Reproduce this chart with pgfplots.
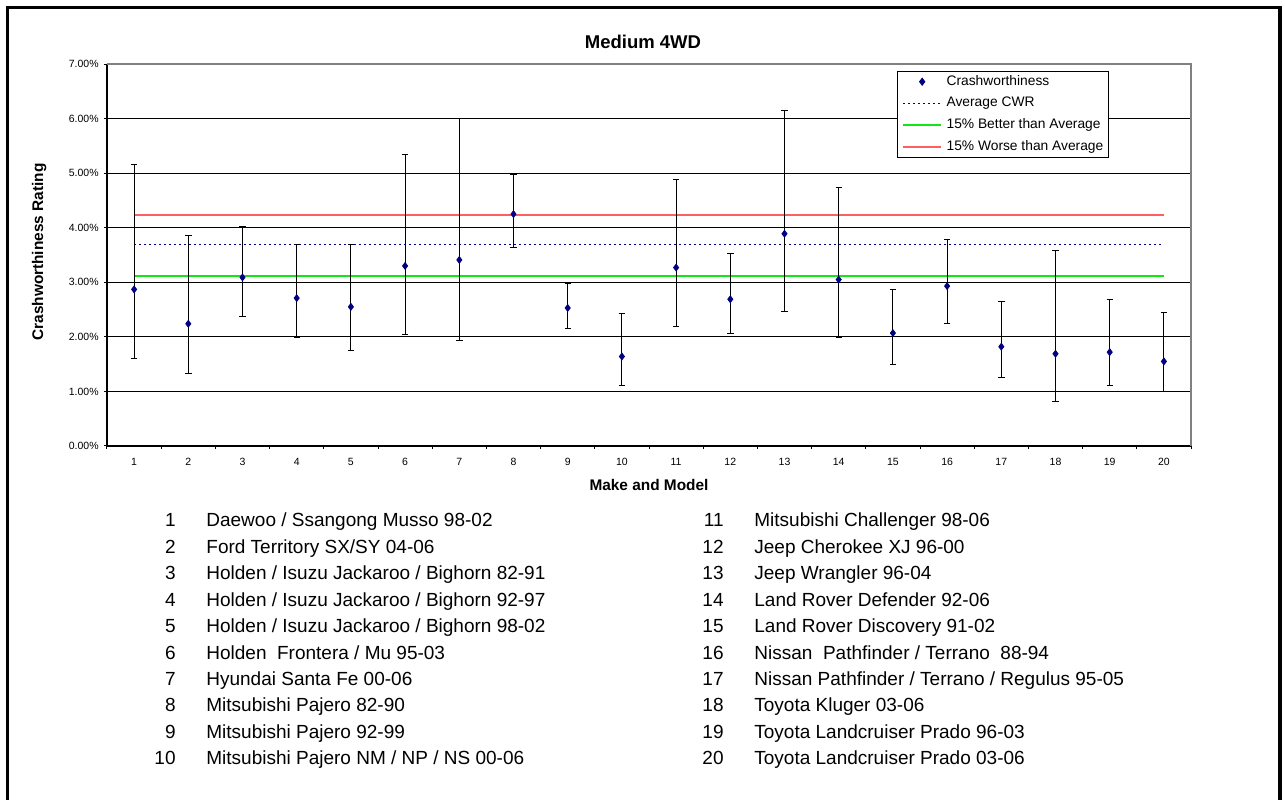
\documentclass[border=0pt]{standalone}
\usepackage{pgfplots}
\pgfplotsset{compat=1.18}
\usepackage{pgfplotstable}
\usepackage{fontspec}
\setmainfont{Liberation Sans}

\definecolor{navy}{RGB}{0,0,128}
\definecolor{redline}{RGB}{255,95,95}
\definecolor{greenline}{RGB}{20,230,20}
\definecolor{bordergray}{RGB}{128,128,128}

% x = model number, y = rating (%), hi/lo = confidence limits (%)
\pgfplotstableread{
x y hi lo
1 2.87 5.16 1.60
2 2.24 3.86 1.32
3 3.09 4.02 2.38
4 2.71 3.69 1.99
5 2.55 3.70 1.75
6 3.30 5.34 2.05
7 3.41 6.00 1.93
8 4.25 4.98 3.64
9 2.53 2.98 2.16
10 1.64 2.43 1.11
11 3.27 4.88 2.19
12 2.69 3.52 2.07
13 3.89 6.14 2.47
14 3.05 4.74 1.99
15 2.07 2.86 1.50
16 2.93 3.78 2.24
17 1.82 2.64 1.26
18 1.69 3.59 0.81
19 1.72 2.69 1.11
20 1.55 2.44 1.00
}\cwr

\newcommand\lrow[4]{%
  \node[anchor=base east, inner sep=0pt] at (#1,#3) {#2};%
  \node[anchor=base west, inner sep=0pt] at (#1+30,#3) {#4};%
}

\begin{document}
\begin{tikzpicture}
\begin{scope}[x=0.5pt,y=-0.5pt]
  \path[use as bounding box] (0,0) rectangle (1285,792);
\end{scope}

\begin{axis}[
  at={(53.5pt,-223pt)}, anchor=south west,
  scale only axis, width=542pt, height=191pt,
  xmin=0.5, xmax=20.5, ymin=0, ymax=7,
  enlargelimits=false,
  axis x line*=bottom, axis y line*=left,
  axis line style={black, line width=0.6pt, -},
  xtick={1,...,20},
  major x tick style={draw=none},
  minor xtick={0.5,1.5,...,20.5},
  minor x tick style={black, line width=0.5pt},
  ytick={0,1,2,3,4,5,6,7},
  yticklabels={0.00\%,1.00\%,2.00\%,3.00\%,4.00\%,5.00\%,6.00\%,7.00\%},
  major y tick style={black, line width=0.5pt},
  tick align=outside, major tick length=1.5pt, minor tick length=1.5pt,
  ymajorgrids, major grid style={black, line width=0.5pt},
  /pgf/number format/assume math mode=true,
  ticklabel style={font=\fontsize{5.25}{6}\selectfont, inner sep=0pt},
  yticklabel shift=2.5pt,
  xticklabel shift=4.5pt,
  clip=false,
  legend image code/.code={\draw[mark repeat=2,mark phase=2,#1] plot coordinates {(0pt,0pt)(9.5pt,0pt)(19pt,0pt)};},
  legend cell align=left,
  legend style={at={(0.7285,0.9825)}, anchor=north west, draw=black, line width=0.5pt, fill=white,
    font=\fontsize{6.9}{8}\selectfont,
    nodes={inner sep=0pt, text height=5pt, text depth=1.5pt},
    row sep=4.35pt, column sep=2.2pt, inner xsep=2.5pt, inner ysep=2pt},
]
% reference lines (drawn first, listed in legend afterwards)
\addplot[forget plot, redline, line width=1pt] coordinates {(1,4.23) (20,4.23)};
\addplot[forget plot, navy, line width=0.7pt, dash pattern=on 1.1pt off 1.4pt] coordinates {(1,3.69) (20,3.69)};
\addplot[forget plot, greenline, line width=0.8pt] coordinates {(1,3.12) (20,3.12)};

\addplot[only marks, mark=diamond*, mark size=1.7pt, navy, mark options={fill=navy, draw=navy},
  error bars/.cd, y dir=both, y explicit,
  error bar style={black, line width=0.5pt},
  error mark options={black, mark size=1.6pt, line width=0.5pt, rotate=90}]
  table[x=x, y=y, y error plus expr=\thisrow{hi}-\thisrow{y}, y error minus expr=\thisrow{y}-\thisrow{lo}] {\cwr};
\addlegendentry{Crashworthiness}
\addlegendimage{navy, line width=0.7pt, dash pattern=on 1.1pt off 1.4pt}
\addlegendentry{Average CWR}
\addlegendimage{greenline, line width=0.8pt}
\addlegendentry{15\% Better than Average}
\addlegendimage{redline, line width=1pt}
\addlegendentry{15\% Worse than Average}

\draw[bordergray, line width=0.6pt] (rel axis cs:0,1) -- (rel axis cs:1,1) -- (rel axis cs:1,0);
\end{axis}

\begin{scope}[x=0.5pt,y=-0.5pt]
  \draw[line width=1.6pt] (7.5,800) -- (7.5,7.5) -- (1280,7.5) -- (1280,800);
  \node[font=\fontsize{9.25}{11}\selectfont\bfseries] at (643,42) {Medium 4WD};
  \node[font=\fontsize{7.7}{9}\selectfont\bfseries, rotate=90] at (39.3,252) {Crashworthiness Rating};
  \node[font=\fontsize{7.7}{9}\selectfont\bfseries] at (649,485) {Make and Model};
  \begin{scope}[font=\fontsize{9.5}{11}\selectfont]
  \lrow{176}{1}{526.8}{Daewoo / Ssangong Musso 98-02}
  \lrow{176}{2}{553.25}{Ford Territory SX/SY 04-06}
  \lrow{176}{3}{579.7}{Holden / Isuzu Jackaroo / Bighorn 82-91}
  \lrow{176}{4}{606.15}{Holden / Isuzu Jackaroo / Bighorn 92-97}
  \lrow{176}{5}{632.6}{Holden / Isuzu Jackaroo / Bighorn 98-02}
  \lrow{176}{6}{659.05}{Holden\ \ Frontera / Mu 95-03}
  \lrow{176}{7}{685.5}{Hyundai Santa Fe 00-06}
  \lrow{176}{8}{711.95}{Mitsubishi Pajero 82-90}
  \lrow{176}{9}{738.4}{Mitsubishi Pajero 92-99}
  \lrow{176}{10}{764.85}{Mitsubishi Pajero NM / NP / NS 00-06}
  \lrow{724}{11}{526.8}{Mitsubishi Challenger 98-06}
  \lrow{724}{12}{553.25}{Jeep Cherokee XJ 96-00}
  \lrow{724}{13}{579.7}{Jeep Wrangler 96-04}
  \lrow{724}{14}{606.15}{Land Rover Defender 92-06}
  \lrow{724}{15}{632.6}{Land Rover Discovery 91-02}
  \lrow{724}{16}{659.05}{Nissan\ \ Pathfinder / Terrano\ \ 88-94}
  \lrow{724}{17}{685.5}{Nissan Pathfinder / Terrano / Regulus 95-05}
  \lrow{724}{18}{711.95}{Toyota Kluger 03-06}
  \lrow{724}{19}{738.4}{Toyota Landcruiser Prado 96-03}
  \lrow{724}{20}{764.85}{Toyota Landcruiser Prado 03-06}
  \end{scope}
\end{scope}
\end{tikzpicture}
\end{document}
